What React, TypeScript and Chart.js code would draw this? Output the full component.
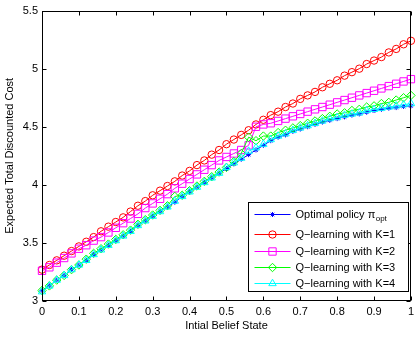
import React, { useEffect, useRef } from 'react';
import { Chart, registerables } from 'chart.js';

Chart.register(...registerables);

const xValues = [
  0.0, 0.02, 0.04, 0.06, 0.08, 0.1, 0.12, 0.14, 0.16, 0.18,
  0.2, 0.22, 0.24, 0.26, 0.28, 0.3, 0.32, 0.34, 0.36, 0.38,
  0.4, 0.42, 0.44, 0.46, 0.48, 0.5, 0.52, 0.54, 0.56, 0.58,
  0.6, 0.62, 0.64, 0.66, 0.68, 0.7, 0.72, 0.74, 0.76, 0.78,
  0.8, 0.82, 0.84, 0.86, 0.88, 0.9, 0.92, 0.94, 0.96, 0.98, 1.0,
];

const optimal = [
  3.09, 3.13, 3.18, 3.22, 3.27, 3.31, 3.35, 3.4, 3.44, 3.48,
  3.52, 3.56, 3.6, 3.65, 3.69, 3.73, 3.77, 3.81, 3.85, 3.9,
  3.94, 3.98, 4.02, 4.06, 4.1, 4.14, 4.18, 4.22, 4.26, 4.3,
  4.34, 4.38, 4.41, 4.43, 4.46, 4.48, 4.5, 4.52, 4.54, 4.555,
  4.57, 4.585, 4.6, 4.61, 4.625, 4.64, 4.65, 4.66, 4.665, 4.675, 4.68,
];

const qK1 = [
  3.27, 3.31, 3.35, 3.39, 3.43, 3.47, 3.51, 3.55, 3.6, 3.64,
  3.68, 3.72, 3.77, 3.82, 3.86, 3.91, 3.95, 3.99, 4.03, 4.08,
  4.12, 4.17, 4.21, 4.26, 4.3, 4.35, 4.39, 4.43, 4.47, 4.52,
  4.56, 4.6, 4.63, 4.67, 4.7, 4.74, 4.77, 4.8, 4.84, 4.87,
  4.9, 4.94, 4.97, 5.0, 5.04, 5.07, 5.1, 5.14, 5.17, 5.21, 5.24,
];

const qK2 = [
  3.26, 3.29, 3.33, 3.37, 3.41, 3.45, 3.48, 3.52, 3.55, 3.59,
  3.63, 3.67, 3.71, 3.75, 3.8, 3.84, 3.88, 3.92, 3.97, 4.01,
  4.05, 4.09, 4.13, 4.17, 4.21, 4.24, 4.27, 4.3, 4.34, 4.5,
  4.52, 4.53, 4.55, 4.57, 4.59, 4.61, 4.63, 4.65, 4.67, 4.69,
  4.71, 4.73, 4.75, 4.77, 4.79, 4.81, 4.83, 4.85, 4.87, 4.89, 4.91,
];

const qK3 = [
  3.09, 3.13, 3.18, 3.22, 3.27, 3.31, 3.36, 3.41, 3.45, 3.49,
  3.53, 3.57, 3.61, 3.66, 3.7, 3.74, 3.78, 3.82, 3.9, 3.91,
  3.95, 3.99, 4.03, 4.07, 4.11, 4.15, 4.2, 4.27, 4.41, 4.38,
  4.42, 4.42, 4.45, 4.47, 4.49, 4.51, 4.53, 4.55, 4.57, 4.59,
  4.61, 4.62, 4.64, 4.65, 4.67, 4.68, 4.7, 4.71, 4.73, 4.75, 4.77,
];

const qK4 = [
  3.08, 3.13, 3.18, 3.22, 3.27, 3.31, 3.35, 3.4, 3.44, 3.48,
  3.52, 3.56, 3.6, 3.65, 3.69, 3.73, 3.77, 3.81, 3.86, 3.9,
  3.94, 3.98, 4.02, 4.06, 4.1, 4.15, 4.19, 4.23, 4.29, 4.32,
  4.35, 4.39, 4.42, 4.44, 4.47, 4.49, 4.51, 4.53, 4.55, 4.57,
  4.58, 4.6, 4.61, 4.62, 4.64, 4.65, 4.66, 4.67, 4.68, 4.69, 4.7,
];

const xTicks = [0, 0.1, 0.2, 0.3, 0.4, 0.5, 0.6, 0.7, 0.8, 0.9, 1];
const xTickLabels = ['0', '0.1', '0.2', '0.3', '0.4', '0.5', '0.6', '0.7', '0.8', '0.9', '1'];
const yTicks = [3, 3.5, 4, 4.5, 5, 5.5];
const yTickLabels = ['3', '3.5', '4', '4.5', '5', '5.5'];

const seriesNames = [
  'Optimal policy \u03c0',
  'Q\u2212learning with K=1',
  'Q\u2212learning with K=2',
  'Q\u2212learning with K=3',
  'Q\u2212learning with K=4',
];
const seriesColors = ['#0000ff', '#ff0000', '#ff00ff', '#00ff00', '#00ffff'];
const seriesMarkers = ['star', 'circle', 'rect', 'rectRot', 'triangle'];
const seriesRadii = [2.5, 3.7, 5.2, 4.2, 4.3];

const FONT = 'Arial, "Liberation Sans", Helvetica, sans-serif';

function drawMarker(ctx: CanvasRenderingContext2D, style: string, x: number, y: number, r: number) {
  ctx.beginPath();
  if (style === 'circle') {
    ctx.arc(x, y, r, 0, Math.PI * 2);
  } else if (style === 'rect') {
    const s = r * Math.SQRT1_2;
    ctx.rect(x - s, y - s, 2 * s, 2 * s);
  } else if (style === 'rectRot') {
    ctx.moveTo(x, y - r);
    ctx.lineTo(x + r, y);
    ctx.lineTo(x, y + r);
    ctx.lineTo(x - r, y);
    ctx.closePath();
  } else if (style === 'triangle') {
    for (let i = 0; i < 3; i++) {
      const a = (i * 2 * Math.PI) / 3;
      const px = x + Math.sin(a) * r;
      const py = y - Math.cos(a) * r;
      if (i === 0) ctx.moveTo(px, py);
      else ctx.lineTo(px, py);
    }
    ctx.closePath();
  } else if (style === 'star') {
    for (let i = 0; i < 4; i++) {
      const a = (i * Math.PI) / 4;
      ctx.moveTo(x - Math.cos(a) * r, y - Math.sin(a) * r);
      ctx.lineTo(x + Math.cos(a) * r, y + Math.sin(a) * r);
    }
  }
  ctx.stroke();
}

const framePlugin = {
  id: 'matlabFrame',
  afterDatasetsDraw(chart: any) {
    const { ctx, chartArea: a, scales } = chart;
    const xs = scales.x;
    const ys = scales.y;
    const L = Math.round(a.left) + 0.5;
    const R = Math.round(a.right) - 0.5;
    const T = Math.round(a.top) + 0.5;
    const B = Math.round(a.bottom) - 0.5;
    ctx.save();
    ctx.strokeStyle = '#000';
    ctx.lineWidth = 1;
    const tl = 4;
    ctx.beginPath();
    xs.ticks.forEach((t: any) => {
      const px = Math.round(xs.getPixelForValue(t.value)) + 0.5;
      ctx.moveTo(px, B);
      ctx.lineTo(px, B - tl);
      ctx.moveTo(px, T);
      ctx.lineTo(px, T + tl);
    });
    ys.ticks.forEach((t: any) => {
      const py = Math.round(ys.getPixelForValue(t.value)) + 0.5;
      ctx.moveTo(L, py);
      ctx.lineTo(L + tl, py);
      ctx.moveTo(R, py);
      ctx.lineTo(R - tl, py);
    });
    ctx.stroke();
    ctx.strokeRect(L, T, R - L, B - T);

    // legend
    const lx = Math.round(a.right) - 163 + 0.5;
    const lr = Math.round(a.right) - 3 + 0.5;
    const lt = Math.round(a.bottom) - 99 + 0.5;
    const lb = Math.round(a.bottom) - 10 + 0.5;
    ctx.fillStyle = '#fff';
    ctx.fillRect(lx, lt, lr - lx, lb - lt);
    ctx.strokeStyle = '#000';
    ctx.strokeRect(lx, lt, lr - lx, lb - lt);
    const rowOffsets = [11, 31, 48, 64, 80];
    ctx.textBaseline = 'middle';
    ctx.textAlign = 'left';
    for (let i = 0; i < seriesNames.length; i++) {
      const ry = Math.round(lt + rowOffsets[i]) + 0.5;
      ctx.strokeStyle = seriesColors[i];
      ctx.lineWidth = 1;
      ctx.beginPath();
      ctx.moveTo(lx + 6, ry);
      ctx.lineTo(lx + 42, ry);
      ctx.stroke();
      drawMarker(ctx, seriesMarkers[i], lx + 24, ry, seriesRadii[i]);
      ctx.fillStyle = '#000';
      ctx.font = '11px ' + FONT;
      ctx.fillText(seriesNames[i], lx + 47, ry);
      if (i === 0) {
        const w = ctx.measureText(seriesNames[i]).width;
        ctx.font = '8px ' + FONT;
        ctx.fillText('opt', lx + 47 + w + 0.5, ry + 4);
      }
    }
    ctx.restore();
  },
};

export default function App() {
  const canvasRef = useRef<HTMLCanvasElement | null>(null);

  useEffect(() => {
    document.body.style.margin = '0';
    const canvas = canvasRef.current;
    if (!canvas) return;
    const dataArrays = [optimal, qK1, qK2, qK3, qK4];
    const datasets = dataArrays.map((arr, i) => ({
      label: seriesNames[i],
      data: xValues.map((x, j) => ({ x, y: arr[j] })),
      borderColor: seriesColors[i],
      backgroundColor: 'rgba(0,0,0,0)',
      borderWidth: 1,
      pointStyle: seriesMarkers[i],
      pointRadius: seriesRadii[i],
      pointBorderWidth: 1,
      pointBorderColor: seriesColors[i],
      pointBackgroundColor: 'rgba(0,0,0,0)',
      tension: 0,
      fill: false,
      clip: false as any,
      order: 5 - i,
    }));

    const chart = new Chart(canvas, {
      type: 'line',
      data: { datasets },
      plugins: [framePlugin],
      options: {
        animation: false,
        responsive: true,
        maintainAspectRatio: false,
        devicePixelRatio: 1,
        layout: { padding: { top: 7, right: 2, left: 0, bottom: 0 } },
        plugins: {
          legend: { display: false },
          tooltip: { enabled: false },
        },
        scales: {
          x: {
            type: 'linear',
            min: 0,
            max: 1,
            afterBuildTicks: (scale: any) => {
              scale.ticks = xTicks.map((v) => ({ value: v }));
            },
            afterFit: (scale: any) => {
              scale.height = 38;
            },
            grid: { display: false, drawTicks: false },
            border: { display: false },
            ticks: {
              autoSkip: false,
              maxRotation: 0,
              padding: 4,
              color: '#000',
              font: { family: FONT, size: 11 },
              callback: (_v: any, idx: number) => xTickLabels[idx],
            },
            title: {
              display: true,
              text: 'Intial Belief State',
              color: '#000',
              font: { family: FONT, size: 11 },
              padding: { top: 0, bottom: 6 },
            },
          },
          y: {
            type: 'linear',
            min: 3,
            max: 5.5,
            afterBuildTicks: (scale: any) => {
              scale.ticks = yTicks.map((v) => ({ value: v }));
            },
            afterFit: (scale: any) => {
              scale.width = 42;
            },
            grid: { display: false, drawTicks: false },
            border: { display: false },
            ticks: {
              autoSkip: false,
              padding: 4,
              color: '#000',
              font: { family: FONT, size: 11 },
              callback: (_v: any, idx: number) => yTickLabels[idx],
            },
            title: {
              display: true,
              text: 'Expected Total Discounted Cost',
              color: '#000',
              font: { family: FONT, size: 11 },
              padding: { top: 3, bottom: 0 },
            },
          },
        },
      } as any,
    });
    return () => chart.destroy();
  }, []);

  return (
    <div style={{ position: 'absolute', left: 0, top: 0, width: 418, height: 339 }}>
      <canvas ref={canvasRef} />
    </div>
  );
}
